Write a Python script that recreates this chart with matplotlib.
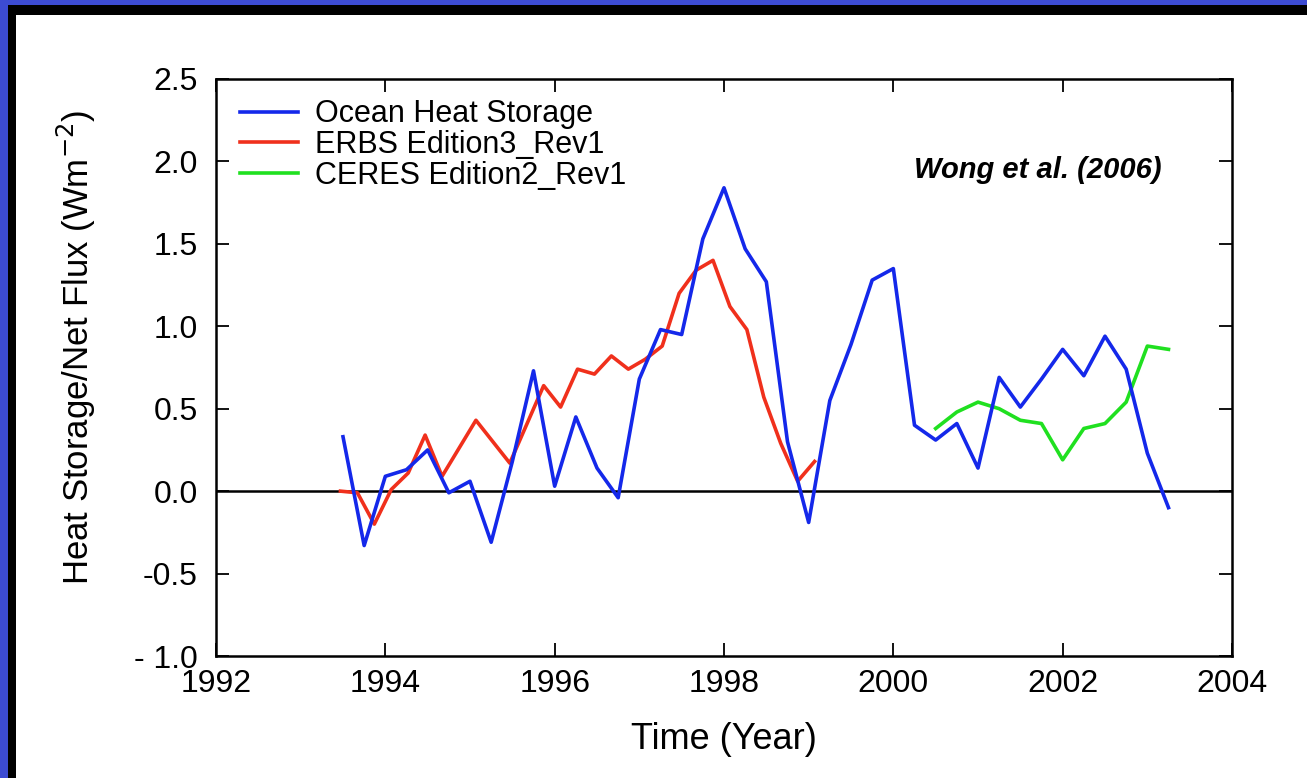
import matplotlib.pyplot as plt
from matplotlib.patches import Rectangle

plt.rcParams['font.family'] = ['Liberation Sans', 'DejaVu Sans']
plt.rcParams['axes.unicode_minus'] = False

# Ocean heat storage, 3-month values from mid-1993
ohs_years = [1993.5, 1993.75, 1994.0, 1994.25, 1994.5, 1994.75, 1995.0, 1995.25,
             1995.5, 1995.75, 1996.0, 1996.25, 1996.5, 1996.75, 1997.0, 1997.25,
             1997.5, 1997.75, 1998.0, 1998.25, 1998.5, 1998.75, 1999.0, 1999.25,
             1999.5, 1999.75, 2000.0, 2000.25, 2000.5, 2000.75, 2001.0, 2001.25,
             2001.5, 2001.75, 2002.0, 2002.25, 2002.5, 2002.75, 2003.0, 2003.25]
ohs_vals = [0.33, -0.33, 0.09, 0.13, 0.25, -0.01, 0.06, -0.31,
            0.18, 0.73, 0.03, 0.45, 0.14, -0.04, 0.68, 0.98,
            0.95, 1.53, 1.84, 1.47, 1.27, 0.30, -0.19, 0.55,
            0.89, 1.28, 1.35, 0.40, 0.31, 0.41, 0.14, 0.69,
            0.51, 0.68, 0.86, 0.70, 0.94, 0.74, 0.23, -0.10]

# ERBS Edition3_Rev1 net flux, 72-day means
erbs_years = [1993.47, 1993.67, 1993.87, 1994.07, 1994.27, 1994.47, 1994.67,
              1995.07, 1995.47, 1995.87, 1996.07, 1996.27, 1996.47, 1996.67,
              1996.87, 1997.07, 1997.27, 1997.47, 1997.67, 1997.87, 1998.07,
              1998.27, 1998.47, 1998.67, 1998.87, 1999.07]
erbs_vals = [0.0, -0.01, -0.20, 0.01, 0.11, 0.34, 0.09,
             0.43, 0.17, 0.64, 0.51, 0.74, 0.71, 0.82,
             0.74, 0.80, 0.88, 1.20, 1.34, 1.40, 1.12,
             0.98, 0.57, 0.29, 0.06, 0.18]

# CERES Edition2_Rev1 net flux
ceres_years = [2000.5, 2000.75, 2001.0, 2001.25, 2001.5, 2001.75,
               2002.0, 2002.25, 2002.5, 2002.75, 2003.0, 2003.25]
ceres_vals = [0.38, 0.48, 0.54, 0.50, 0.43, 0.41,
              0.19, 0.38, 0.41, 0.54, 0.88, 0.86]

x_ticks = [1992, 1994, 1996, 1998, 2000, 2002, 2004]
y_ticks = [-1.0, -0.5, 0.0, 0.5, 1.0, 1.5, 2.0, 2.5]

fig = plt.figure(figsize=(13.07, 7.78), dpi=100, facecolor='#3c4bd2')
# black inner border and white panel behind the axes
fig.patches.append(Rectangle((8 / 1307, 0), 1, 1 - 5 / 778, transform=fig.transFigure,
                             facecolor='black', edgecolor='none', zorder=-2))
fig.patches.append(Rectangle((16 / 1307, 0), 1, 1 - 15 / 778, transform=fig.transFigure,
                             facecolor='white', edgecolor='none', zorder=-1))

ax = fig.add_axes([216 / 1307, 1 - 656 / 778, 1016 / 1307, 577 / 778])
ax.set_facecolor('white')

ax.axhline(0, color='black', lw=1.8, zorder=1)
ax.plot(ohs_years, ohs_vals, color='#1428ea', lw=2.6, label='Ocean Heat Storage', zorder=3)
ax.plot(erbs_years, erbs_vals, color='#f0301c', lw=2.6, label='ERBS Edition3_Rev1', zorder=2)
ax.plot(ceres_years, ceres_vals, color='#20e020', lw=2.6, label='CERES Edition2_Rev1', zorder=2)

ax.set_xlim(1992, 2004)
ax.set_ylim(-1.0, 2.5)
ax.set_xticks(x_ticks)
ax.set_yticks(y_ticks)
ax.set_yticklabels(['- 1.0' if v == -1.0 else f'{v:.1f}' for v in y_ticks])
ax.tick_params(direction='in', length=9.5, width=1.3, labelsize=23, top=True, right=True)
ax.tick_params(axis='y', pad=13)
ax.tick_params(axis='x', pad=9)
for s in ax.spines.values():
    s.set_linewidth(1.8)

ax.set_xlabel('Time (Year)', fontsize=26, labelpad=17)
ax.set_ylabel('Heat Storage/Net Flux (Wm$^{-2}$)', fontsize=25)
ax.yaxis.set_label_coords(-0.116, 0.535)

ax.text(2001.71, 1.947, 'Wong et al. (2006)', fontsize=21, fontweight='bold',
        fontstyle='italic', ha='center', va='center')

ax.legend(loc='upper left', frameon=False, fontsize=22, handlelength=1.9,
          handletextpad=0.55, labelspacing=0.02, borderpad=0, borderaxespad=0,
          bbox_to_anchor=(0.0236, 0.9645))

fig.savefig('out.png', dpi=100, facecolor=fig.get_facecolor())
